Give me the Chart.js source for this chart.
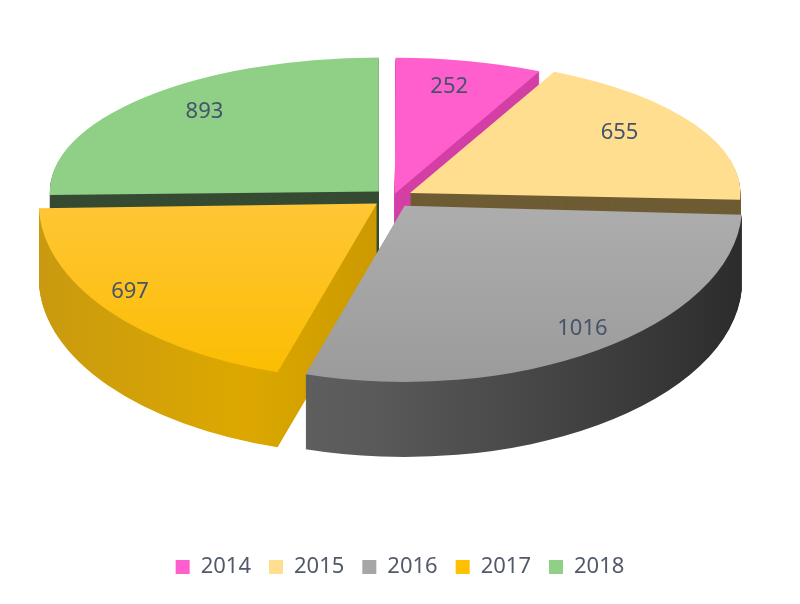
<!DOCTYPE html>
<html>
<head>
<meta charset="utf-8">
<style>
  html, body { margin: 0; padding: 0; background: #fff; }
  #wrap { width: 800px; height: 604px; }
</style>
<script src="https://cdn.jsdelivr.net/npm/chart.js@4.4.1/dist/chart.umd.min.js"></script>
</head>
<body>
<div id="wrap"><canvas id="pie"></canvas></div>
<script>
const years = ['2014', '2015', '2016', '2017', '2018'];
const counts = [252, 655, 1016, 697, 893];

const faceColors = ['#ff5fcc', '#ffdf8f', '#a6a6a6', '#ffc000', '#8fcf86'];
const wallColors = ['#d43fa5', '#6e5c34', '#4b4b4b', '#d6a200', '#354b32'];
const explode = [20, 48, 48, 48, 48];

// flattened pie on the page; the front half is drawn a bit taller (fake perspective)
const view = {
  cx: 393, cy: 197, depth: 75, radius: 200, labelLift: 10,
  back:  { rx: 329, ry: 134, label: 0.74 },
  front: { rx: 337, ry: 176, label: 0.92 }
};

const midOf = arc => (arc.startAngle + arc.endAngle) / 2;
const halfOf = arc => (Math.sin(midOf(arc)) > 0 ? view.front : view.back);

function place(ctx, arc, half, drop) {
  const R = arc.outerRadius;
  ctx.translate(view.cx, view.cy + drop);
  ctx.scale(half.rx / R, half.ry / R);
  ctx.translate(-arc.x, -arc.y);
}

function paint(ctx, arc, fill) {
  const ghost = Object.create(arc);
  ghost.options = Object.assign({}, arc.options, { backgroundColor: fill, borderWidth: 0 });
  ghost.draw(ctx);
}

function wallFill(ctx, arc, i) {
  const R = arc.outerRadius;
  if (i === 2) {
    const g = ctx.createLinearGradient(arc.x - R, 0, arc.x + R, 0);
    g.addColorStop(0, '#6c6c6c');
    g.addColorStop(0.45, '#5a5a5a');
    g.addColorStop(0.8, '#3e3e3e');
    g.addColorStop(1, '#2c2c2c');
    return g;
  }
  if (i === 3) {
    const g = ctx.createLinearGradient(arc.x - R, 0, arc.x + R, 0);
    g.addColorStop(0, '#c99a10');
    g.addColorStop(0.3, '#dca800');
    g.addColorStop(0.55, '#c89600');
    return g;
  }
  return wallColors[i];
}

// light top-to-bottom shading on the two front faces
function faceFill(ctx, arc, i) {
  const R = arc.outerRadius;
  if (i === 2) {
    const g = ctx.createLinearGradient(0, arc.y, 0, arc.y + R);
    g.addColorStop(0, '#adadad');
    g.addColorStop(1, '#9b9b9b');
    return g;
  }
  if (i === 3) {
    const g = ctx.createLinearGradient(0, arc.y, 0, arc.y + R);
    g.addColorStop(0, '#ffc636');
    g.addColorStop(1, '#fbbd00');
    return g;
  }
  return faceColors[i];
}

const pie3d = {
  id: 'pie3d',
  beforeDatasetsDraw(chart) {
    const ctx = chart.ctx;
    const arcs = chart.getDatasetMeta(0).data;
    const backToFront = arcs.map((a, i) => i)
      .sort((a, b) => Math.sin(midOf(arcs[a])) - Math.sin(midOf(arcs[b])));

    // side walls: the slice stacked downwards
    backToFront.forEach(i => {
      const arc = arcs[i];
      const half = halfOf(arc);
      const fill = wallFill(ctx, arc, i);
      for (let d = view.depth; d > 0; d--) {
        ctx.save();
        place(ctx, arc, half, d);
        paint(ctx, arc, fill);
        ctx.restore();
      }
    });

    // top faces
    arcs.forEach((arc, i) => {
      ctx.save();
      place(ctx, arc, halfOf(arc), 0);
      paint(ctx, arc, faceFill(ctx, arc, i));
      ctx.restore();
    });

    // value labels
    ctx.save();
    ctx.font = '22px "Noto Sans"';
    ctx.fillStyle = '#44546a';
    ctx.textAlign = 'center';
    ctx.textBaseline = 'middle';
    arcs.forEach((arc, i) => {
      const half = halfOf(arc);
      const R = arc.outerRadius;
      const m = midOf(arc);
      const r = arc.options.offset / 4 + half.label * R;
      ctx.fillText(String(counts[i]),
        view.cx + Math.cos(m) * r * half.rx / R,
        view.cy + Math.sin(m) * r * half.ry / R - view.labelLift);
    });
    ctx.restore();
    return false;
  }
};

Chart.defaults.font.family = '"Noto Sans", sans-serif';
Chart.defaults.color = '#525a6a';

new Chart(document.getElementById('pie'), {
  type: 'pie',
  data: {
    labels: years,
    datasets: [{
      data: counts,
      backgroundColor: faceColors,
      borderWidth: 0,
      offset: explode,
      radius: view.radius
    }]
  },
  options: {
    responsive: true,
    maintainAspectRatio: false,
    animation: false,
    events: [],
    layout: { padding: { bottom: 16 } },
    plugins: {
      legend: {
        position: 'bottom',
        labels: { font: { size: 22 }, boxWidth: 14, boxHeight: 14, padding: 18 }
      },
      tooltip: { enabled: false }
    }
  },
  plugins: [pie3d]
});
</script>
</body>
</html>
